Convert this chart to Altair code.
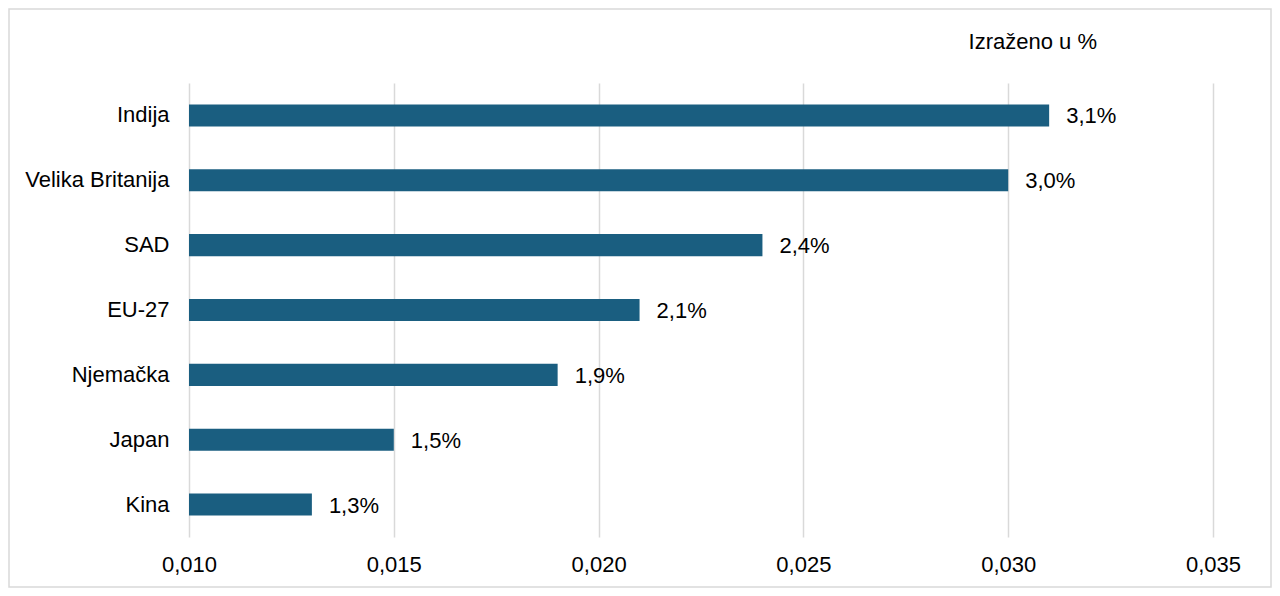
import altair as alt
import pandas as pd

countries = ["Indija", "Velika Britanija", "SAD", "EU-27", "Njemačka", "Japan", "Kina"]
values = [0.031, 0.030, 0.024, 0.021, 0.019, 0.015, 0.013]
x_ticks = [0.010, 0.015, 0.020, 0.025, 0.030, 0.035]
unit_note = "Izraženo u %"

df = pd.DataFrame({"country": countries, "value": values})

FONT = "Liberation Sans"
FS = 22
BAR = "#1a5e80"
GRID = "#d9d9d9"

base = alt.Chart(df).encode(
    y=alt.Y(
        "country:N",
        sort=countries,
        title=None,
        scale=alt.Scale(paddingInner=0.66, paddingOuter=0.33),
        axis=alt.Axis(
            labelFont=FONT, labelFontSize=FS, labelColor="#000000",
            labelPadding=20, ticks=False, domain=False, grid=False,
        ),
    ),
)

bars = base.mark_bar(color=BAR).encode(
    x=alt.X(
        "value:Q",
        title=None,
        scale=alt.Scale(domain=[0.010, 0.035], nice=False, zero=False),
        axis=alt.Axis(
            values=x_ticks,
            labelExpr="replace(format(datum.value, '.3f'), '.', ',')",
            labelFont=FONT, labelFontSize=FS, labelColor="#000000",
            labelPadding=17, labelFlush=False, ticks=False, domain=False,
            grid=True, gridColor=GRID, gridWidth=1.5,
        ),
    ),
    x2=alt.datum(0.010),
)

labels = base.transform_calculate(
    label="replace(format(datum.value * 100, '.1f'), '.', ',') + '%'"
).mark_text(
    align="left", baseline="middle", dx=17, dy=1, font=FONT, fontSize=FS, color="#000000"
).encode(
    x=alt.X("value:Q"),
    text="label:N",
)

note = alt.Chart(alt.Data(values=[{"t": unit_note}])).mark_text(
    align="right", baseline="middle", font=FONT, fontSize=FS, color="#000000"
).encode(
    x=alt.value(908), y=alt.value(-41), text="t:N"
)

border = alt.Chart(alt.Data(values=[{}])).mark_rect(
    filled=False, stroke=GRID, strokeWidth=1.5
).encode(
    x=alt.value(-180), x2=alt.value(1082), y=alt.value(-74), y2=alt.value(504)
)

chart = alt.layer(bars, labels, note, border).properties(
    width=1024,
    height=454,
    padding={"left": 181, "top": 75, "right": 59, "bottom": 59},
    autosize=alt.AutoSizeParams(type="none"),
).configure(
    background="white",
    view=alt.ViewConfig(strokeWidth=0, stroke="transparent"),
)

chart.save("out.html", embed_options={"renderer": "svg", "actions": False})
